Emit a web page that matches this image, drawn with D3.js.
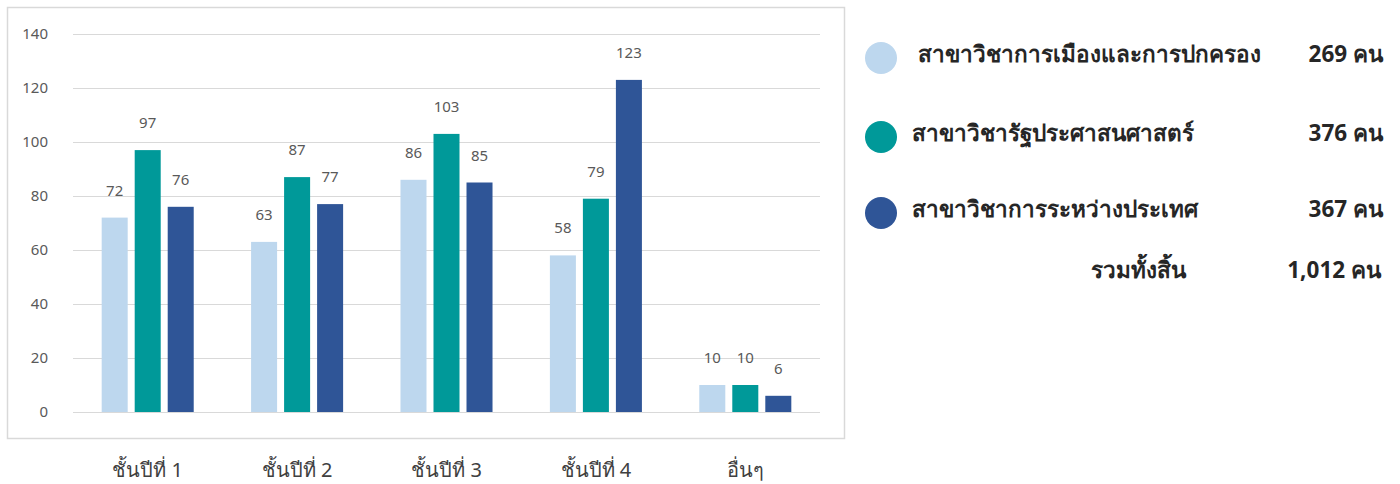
<!DOCTYPE html>
<html><head><meta charset="utf-8">
<script src="https://cdn.jsdelivr.net/npm/d3@7"></script>
<style>body{margin:0;background:#fff;font-family:"Noto Sans","DejaVu Sans",sans-serif;}</style>
</head><body><svg id="c" width="1400" height="484"></svg>
<script>
const categories = ["ชั้นปีที่ 1","ชั้นปีที่ 2","ชั้นปีที่ 3","ชั้นปีที่ 4","อื่นๆ"];
const seriesNames = ["สาขาวิชาการเมืองและการปกครอง","สาขาวิชารัฐประศาสนศาสตร์","สาขาวิชาการระหว่างประเทศ"];
const seriesTotals = ["269 คน","376 คน","367 คน"];
const politics = [72,63,86,58,10];
const publicAdmin = [97,87,103,79,10];
const intl = [76,77,85,123,6];
const yTicks = [0,20,40,60,80,100,120,140];
const totalLabel = "รวมทั้งสิ้น";
const totalValue = "1,012 คน";
const colors = ["#BDD7EE","#009999","#2F5597"];

const series = [politics, publicAdmin, intl];
const svg = d3.select("#c");

svg.append("rect").attr("x",7.5).attr("y",7.5).attr("width",837).attr("height",431)
  .attr("fill","#fff").attr("stroke","#d9d9d9").attr("stroke-width",1.5);

const x0 = d3.scaleBand().domain(categories).range([73,820]).paddingInner(0.384).paddingOuter(0.192);
const x1 = d3.scaleBand().domain([0,1,2]).range([0,x0.bandwidth()]).paddingInner(0.212);
const y = d3.scaleLinear().domain([0,140]).range([412,34]);

const grid = svg.append("g");
grid.selectAll("line").data(yTicks).join("line")
  .attr("x1",73).attr("x2",820).attr("y1",d=>y(d)+0.5).attr("y2",d=>y(d)+0.5)
  .attr("stroke","#d9d9d9").attr("stroke-width",1.2);

const yAxis = svg.append("g").attr("transform","translate(52,0)")
  .call(d3.axisLeft(y).tickValues(yTicks).tickSize(0).tickPadding(4));
yAxis.select(".domain").remove();
yAxis.selectAll("text").attr("font-size",15).attr("fill","#595959").attr("font-family","Noto Sans, sans-serif");

const xAxis = svg.append("g").attr("transform","translate(0,457)")
  .call(d3.axisBottom(x0).tickSize(0).tickPadding(6));
xAxis.select(".domain").remove();
xAxis.selectAll("text").attr("font-size",20).attr("fill","#404040").attr("font-family","Noto Sans, sans-serif");

series.forEach((vals,si)=>{
  const g = svg.append("g");
  g.selectAll("rect").data(vals).join("rect")
    .attr("x",(d,i)=>x0(categories[i])+x1(si))
    .attr("width",x1.bandwidth())
    .attr("y",d=>y(d)).attr("height",d=>y(0)-y(d))
    .attr("fill",colors[si]);
  g.selectAll("text").data(vals).join("text")
    .attr("x",(d,i)=>x0(categories[i])+x1(si)+x1.bandwidth()/2)
    .attr("y",d=>y(d)-22)
    .attr("text-anchor","middle").attr("font-size",15).attr("fill","#595959")
    .text(d=>d);
});

const leg = svg.append("g");
const ly = [58,137,213];
const fs = 22.5;
seriesNames.forEach((n,i)=>{
  leg.append("circle").attr("cx",881).attr("cy",ly[i]).attr("r",16).attr("fill",colors[i]);
  leg.append("text").attr("x",i===0?918:912).attr("y",ly[i]-4).attr("dy","0.35em")
    .attr("font-size",fs).attr("font-weight","bold").attr("fill","#262626").text(n);
  leg.append("text").attr("x",1383).attr("y",ly[i]-4).attr("dy","0.35em").attr("text-anchor","end")
    .attr("font-size",fs).attr("font-weight","bold").attr("fill","#262626").text(seriesTotals[i]);
});
leg.append("text").attr("x",1186).attr("y",270).attr("dy","0.35em").attr("text-anchor","end")
  .attr("font-size",fs).attr("font-weight","bold").attr("fill","#262626").text(totalLabel);
leg.append("text").attr("x",1381).attr("y",270).attr("dy","0.35em").attr("text-anchor","end")
  .attr("font-size",fs).attr("font-weight","bold").attr("fill","#262626").text(totalValue);
</script></body></html>
